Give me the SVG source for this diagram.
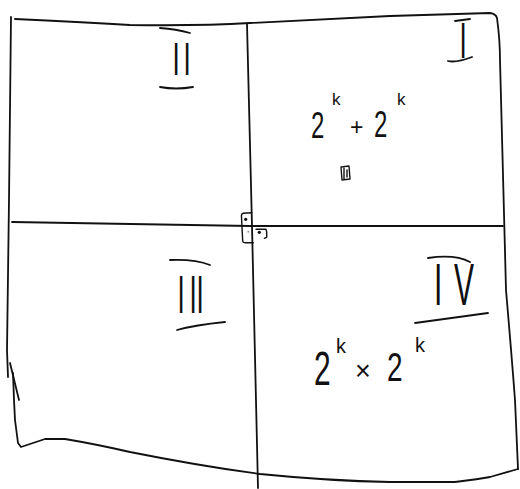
<svg xmlns="http://www.w3.org/2000/svg" width="520" height="489" viewBox="0 0 520 489">
<style>
.ln{fill:none;stroke:#111;stroke-width:1.8;stroke-linecap:round;stroke-linejoin:round}
.tn{fill:none;stroke:#111;stroke-width:1.4;stroke-linecap:round;stroke-linejoin:round}
.t{font-family:"Liberation Sans",Arial,sans-serif;fill:#111}
</style>
<rect width="520" height="489" fill="#fff"/>
<g id="frame">
<path class="ln" d="M11,17 L9,200 L7,350 L8,377"/>
<path class="ln" d="M10,363 L19,400"/>
<path class="ln" d="M13,373 L14,400 L15,420 L18,443 L21,447 L45,439 L65,439 Q95,444 130,452 Q200,466 260,474 Q330,481 390,482 L455,482 Q480,479 490,477 L518,469"/>
<path class="ln" d="M15,19 Q80,22 130,25 Q200,26 250,23 Q330,19 390,16 L490,13 Q496,14 497,18 Q500,40 500,60 L506,290 Q512,360 515,400 L518,469"/>
</g>
<g id="connectors">
<path class="ln" d="M12,222 Q120,224 250,226 L503,226"/>
<path class="ln" d="M247,24 L252,226 L258,488"/>
</g>
<g id="center-mark">
<path class="tn" d="M251.7,212.7 L243,213.3 Q241,214 241.5,217 L242.7,241 Q243,243 246,242.8 L253.3,242.7"/>
<circle cx="245.7" cy="219.3" r="1.6" fill="#111"/>
<path class="tn" d="M256,229.3 L266,229.3 Q267,231 266.7,237.3 L264.3,238.3"/>
<circle cx="259.3" cy="232.3" r="1.6" fill="#111"/>
<circle cx="248.3" cy="231.7" r="1" fill="#999"/>
</g>
<g id="quadrant-II">
<path class="ln" d="M160,28 Q176,29 190,33"/>
<text class="t" font-size="26" letter-spacing="3.8" transform="translate(172.4,75) scale(1,1.8)">II</text>
<path class="ln" d="M160,87 Q176,90 193,87"/>
</g>
<g id="quadrant-I">
<path class="ln" d="M455,21 L470,19"/>
<text class="t" font-size="26" transform="translate(459.4,58) scale(1,1.94)">I</text>
<path class="ln" d="M448,61 Q456,63 472,57"/>
<text class="t" font-size="24" transform="translate(311,138) scale(1,1.55)">2</text>
<text class="t" font-size="17" x="332" y="105">k</text>
<text class="t" font-size="23" x="350" y="135">+</text>
<text class="t" font-size="24" transform="translate(374,137) scale(1,1.55)">2</text>
<text class="t" font-size="17" x="397" y="105">k</text>
<path class="tn" d="M341,167 L349,166 L350,179 L342,180 Z M344,167 L344,179 M347,170 L347,177"/>
</g>
<g id="quadrant-III">
<path class="ln" d="M170,260 Q195,259 210,265"/>
<text class="t" font-size="26" transform="translate(0,313) scale(1,2.05)"><tspan x="177.4 189.4 196.4" y="0">III</tspan></text>
<path class="ln" d="M177,330 Q195,325 225,322"/>
</g>
<g id="quadrant-IV">
<path class="ln" d="M428,258 Q455,254 470,262"/>
<text class="t" font-size="30" transform="translate(0,305) scale(1,1.95)"><tspan x="434 454" y="0">IV</tspan></text>
<path class="ln" d="M415,323 L488,313"/>
<text class="t" font-size="30" transform="translate(314,385) scale(1,1.6)">2</text>
<text class="t" font-size="20" x="336" y="353">k</text>
<text class="t" font-size="27" x="355" y="380">×</text>
<text class="t" font-size="28" transform="translate(387,381) scale(1,1.45)">2</text>
<text class="t" font-size="20" x="415" y="352">k</text>
</g>
</svg>
